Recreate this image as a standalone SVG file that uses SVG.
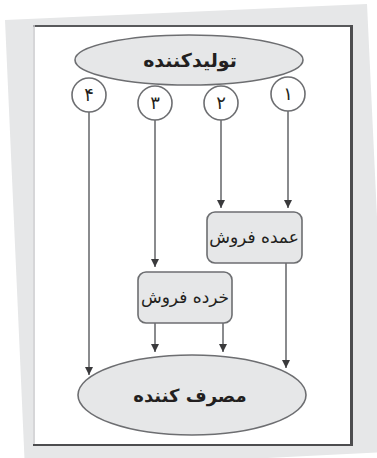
<svg xmlns="http://www.w3.org/2000/svg" width="377" height="458" viewBox="0 0 377 458">
<defs>
<style>
.ln{stroke:#6d6e71;stroke-width:1.6;fill:none}
.nd{fill:#e6e7e8;stroke:#6d6e71;stroke-width:1.6}
.cr{fill:#ffffff;stroke:#6d6e71;stroke-width:1.6}
.tx{font-family:"DejaVu Sans","Noto Sans",sans-serif;fill:#231f20;text-anchor:middle}
.big{font-size:19px;font-weight:bold}
.big2{font-size:18px;font-weight:bold}
.box{font-size:17px}
.num{font-size:18px}
</style>
<marker id="ah" viewBox="0 0 10 10" refX="10" refY="5" markerWidth="5" markerHeight="5" orient="auto" markerUnits="strokeWidth">
<path d="M0,0 L10,5 L0,10 Z" fill="#3a3a3c"/>
</marker>
</defs>
<rect x="0" y="0" width="377" height="458" fill="#ffffff"/>
<polygon points="5,20 367,4 388,452 25,470" fill="#e6e7e8"/>
<rect x="33" y="25" width="319" height="420" fill="#ffffff"/>
<line x1="33" y1="26" x2="352" y2="26" stroke="#58595b" stroke-width="2"/>
<line x1="34" y1="25" x2="34" y2="445" stroke="#c8c9cb" stroke-width="1.5"/>
<line x1="351.5" y1="25" x2="351.5" y2="446" stroke="#4d4d4f" stroke-width="3"/>
<line x1="33" y1="445" x2="353" y2="445" stroke="#4d4d4f" stroke-width="2"/>
<g id="connectors">
<line class="ln" x1="89" y1="112" x2="89" y2="375" marker-end="url(#ah)"/>
<line class="ln" x1="155" y1="120" x2="155" y2="267" marker-end="url(#ah)"/>
<line class="ln" x1="221" y1="120" x2="221" y2="208" marker-end="url(#ah)"/>
<line class="ln" x1="288" y1="111" x2="288" y2="208" marker-end="url(#ah)"/>
<line class="ln" x1="286" y1="263" x2="286" y2="368" marker-end="url(#ah)"/>
<line class="ln" x1="155" y1="323" x2="155" y2="352" marker-end="url(#ah)"/>
<line class="ln" x1="223" y1="323" x2="223" y2="352" marker-end="url(#ah)"/>
</g>
<g id="c4"><circle class="cr" cx="89" cy="95" r="17"/><text class="tx num" x="89" y="101">۴</text></g>
<g id="c3"><circle class="cr" cx="155" cy="103" r="17"/><text class="tx num" x="155" y="109">۳</text></g>
<g id="c2"><circle class="cr" cx="221" cy="103" r="17"/><text class="tx num" x="221" y="109">۲</text></g>
<g id="c1"><circle class="cr" cx="288" cy="94" r="17"/><text class="tx num" x="288" y="100">۱</text></g>
<g id="producer"><ellipse class="nd" cx="189" cy="60" rx="114" ry="25"/><text class="tx big" x="190" y="67">تولیدکننده</text></g>
<g id="wholesaler"><rect class="nd" x="207" y="212" width="95" height="51" rx="8"/><text class="tx box" x="254" y="243">عمده فروش</text></g>
<g id="retailer"><rect class="nd" x="138" y="272" width="94" height="51" rx="8"/><text class="tx box" x="185" y="303">خرده فروش</text></g>
<g id="consumer"><ellipse class="nd" cx="192" cy="395" rx="114" ry="40"/><text class="tx big2" x="190" y="402">مصرف کننده</text></g>
</svg>
